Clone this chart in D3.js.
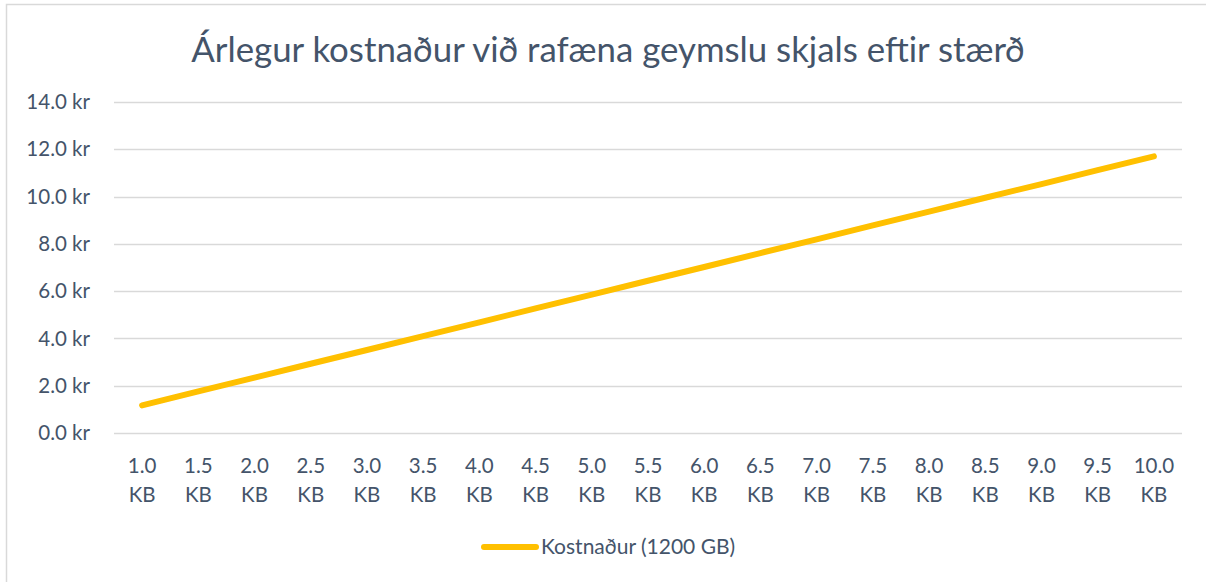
<!DOCTYPE html>
<html>
<head>
<meta charset="utf-8">
<script src="https://cdn.jsdelivr.net/npm/d3@7"></script>
<style>
  body { margin: 0; background: #fff; }
  text { font-family: Lato, "Open Sans", sans-serif; fill: #44546a; }
</style>
</head>
<body>
<div id="chart"></div>
<script>
// Chart data
const sizes = ["1.0", "1.5", "2.0", "2.5", "3.0", "3.5", "4.0", "4.5", "5.0", "5.5",
               "6.0", "6.5", "7.0", "7.5", "8.0", "8.5", "9.0", "9.5", "10.0"];
const costs = [1.17, 1.76, 2.34, 2.93, 3.51, 4.10, 4.68, 5.27, 5.85, 6.44,
               7.02, 7.61, 8.19, 8.78, 9.36, 9.95, 10.53, 11.12, 11.70];
const yTicks = [0, 2, 4, 6, 8, 10, 12, 14];
const title = "Árlegur kostnaður við rafæna geymslu skjals eftir stærð";
const seriesName = "Kostnaður (1200 GB)";

const width = 1206;
const height = 582;
const margin = { top: 102, right: 24, bottom: 149, left: 114 };

const svg = d3.select("#chart")
              .append("svg")
              .attr("width", width)
              .attr("height", height);

// Outer chart border (only top and left visible in frame)
svg.append("rect")
   .attr("x", 6.5)
   .attr("y", 4.5)
   .attr("width", width + 10)
   .attr("height", height + 10)
   .attr("fill", "none")
   .attr("stroke", "#d9d9d9")
   .attr("stroke-width", 1.5);

const x = d3.scaleBand()
            .domain(sizes)
            .range([margin.left, width - margin.right]);

const y = d3.scaleLinear()
            .domain([0, 14])
            .range([height - margin.bottom, margin.top]);

// Title
svg.append("text")
   .attr("x", 608)
   .attr("y", 62)
   .attr("text-anchor", "middle")
   .attr("font-size", 34.8)
   .text(title);

// Gridlines
svg.append("g")
   .selectAll("line")
   .data(yTicks)
   .enter().append("line")
   .attr("x1", margin.left)
   .attr("x2", width - margin.right)
   .attr("y1", d => Math.round(y(d)) + 0.5)
   .attr("y2", d => Math.round(y(d)) + 0.5)
   .attr("stroke", "#d9d9d9")
   .attr("stroke-width", 1.5);

// Y labels
svg.append("g")
   .selectAll("text")
   .data(yTicks)
   .enter().append("text")
   .attr("x", 90)
   .attr("y", d => y(d))
   .attr("dy", "0.35em")
   .attr("text-anchor", "end")
   .attr("font-size", 20.5)
   .text(d => d.toFixed(1) + " kr");

// X labels (two lines)
const xl = svg.append("g")
              .selectAll("text")
              .data(sizes)
              .enter().append("text")
              .attr("text-anchor", "middle")
              .attr("font-size", 20.5);
xl.append("tspan")
  .attr("x", d => x(d) + x.bandwidth() / 2)
  .attr("y", 473)
  .text(d => d);
xl.append("tspan")
  .attr("x", d => x(d) + x.bandwidth() / 2)
  .attr("y", 502)
  .text("KB");

// Line
const line = d3.line()
               .x((d, i) => x(sizes[i]) + x.bandwidth() / 2)
               .y(d => y(d));

svg.append("path")
   .datum(costs)
   .attr("d", line)
   .attr("fill", "none")
   .attr("stroke", "#ffc000")
   .attr("stroke-width", 6)
   .attr("stroke-linecap", "round");

// Legend
const legend = svg.append("g");
legend.append("line")
      .attr("x1", 484)
      .attr("x2", 536)
      .attr("y1", 547)
      .attr("y2", 547)
      .attr("stroke", "#ffc000")
      .attr("stroke-width", 6)
      .attr("stroke-linecap", "round");
legend.append("text")
      .attr("x", 541)
      .attr("y", 547)
      .attr("dy", "0.35em")
      .attr("font-size", 21)
      .text(seriesName);
</script>
</body>
</html>
